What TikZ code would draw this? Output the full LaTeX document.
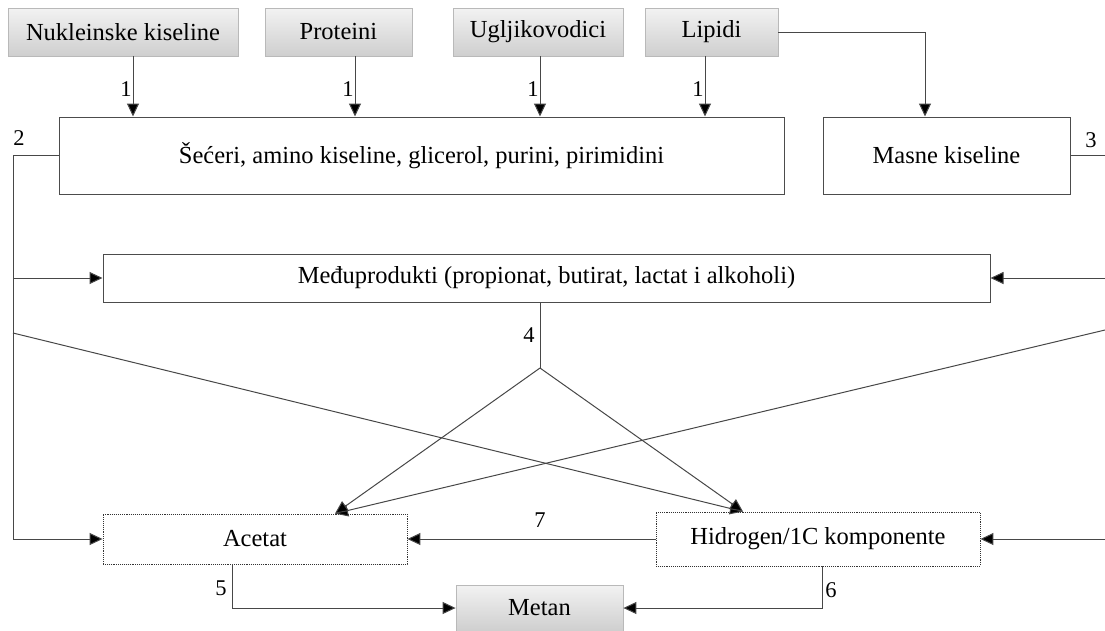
\documentclass[tikz,border=0pt]{standalone}
\usepackage{fontspec}
\setmainfont{Liberation Serif}
\usetikzlibrary{arrows.meta,calc}
\begin{document}
\begin{tikzpicture}[x=1pt,y=-1pt,
  font=\fontsize{24.5}{28}\selectfont,
  greybox/.style={draw=gray!55, line width=0.8pt, top color=gray!10, bottom color=gray!38, inner sep=0pt, anchor=center},
  plainbox/.style={draw=black!70, line width=1pt, fill=white, inner sep=0pt},
  dotbox/.style={draw=black!80, line width=0.9pt, densely dotted, fill=white, inner sep=0pt},
  conn/.style={draw=black!72, line width=1pt},
  arr/.style={conn, -{Triangle[length=13pt,width=12pt,fill=black]}},
  lbl/.style={font=\fontsize{22.5}{26}\selectfont, inner sep=0pt}
]
\useasboundingbox (0,0) rectangle (1105,630);

% top grey boxes
\node[greybox, minimum width=230, minimum height=48] (nuk) at (123,32) {Nukleinske kiseline};
\node[greybox, minimum width=147, minimum height=48] (prot) at (338.5,32) {Proteini};
\node[greybox, minimum width=170, minimum height=48] (ugl) at (538,32) {Ugljikovodici};
\node[greybox, minimum width=133, minimum height=48] (lip) at (711.5,32) {Lipidi};

% second row
\node[plainbox, minimum width=725, minimum height=77] (big) at (421.5,155.5) {Šećeri, amino kiseline, glicerol, purini, pirimidini};
\node[plainbox, minimum width=247, minimum height=77] (masne) at (946.5,155.5) {Masne kiseline};

% intermediates
\node[plainbox, minimum width=887, minimum height=48] (medu) at (546.5,278) {Međuprodukti (propionat, butirat, lactat i alkoholi)};

% bottom
\node[dotbox, minimum width=304, minimum height=50] (acetat) at (255,539) {Acetat};
\node[dotbox, minimum width=324, minimum height=54] (hidro) at (818,539) {Hidrogen/1C komponente};
\node[greybox, minimum width=167, minimum height=46] (metan) at (539.5,608) {Metan};

% helper coordinates
\coordinate (L) at (13,155.5);
\coordinate (Lb) at (13,539);
\coordinate (Ld) at (13,333);
\coordinate (R3) at (1105,155.5);
\coordinate (Rm) at (1105,278);
\coordinate (Rd) at (1105,330);
\coordinate (Rb) at (1105,539);
\coordinate (J) at (540,368);

% arrows 1
\draw[arr] ([xshift=10]nuk.south) -- ([xshift=10]nuk.south |- big.north) node[lbl, pos=0.55, left=1pt] {1};
\draw[arr] ([xshift=16.5]prot.south) -- ([xshift=16.5]prot.south |- big.north) node[lbl, pos=0.55, left=1pt] {1};
\draw[arr] ([xshift=2]ugl.south) -- ([xshift=2]ugl.south |- big.north) node[lbl, pos=0.55, left=1pt] {1};
\draw[arr] ([xshift=-6.5]lip.south) -- ([xshift=-6.5]lip.south |- big.north) node[lbl, pos=0.55, left=1pt] {1};

% Lipidi to Masne
\draw[arr] (lip.east) -| ([xshift=-21.5]masne.north);

% 3
\draw[conn] (masne.east) -- (R3);
\node[lbl] (n3) at (1091,140) {3};

% 2
\draw[conn] (big.west) -- (L) -- (Lb);
\node[lbl] (n2) at (19,138) {2};
\draw[arr] (Lb) -- (acetat.west);
\draw[arr] (medu.west -| L) -- (medu.west);
\draw[arr] (Ld) -- ([xshift=-75]hidro.north);

% right side inputs
\draw[arr] (Rm) -- (medu.east);
\draw[arr] (Rd) -- ([xshift=80]acetat.north);
\draw[arr] (Rb) -- (hidro.east);

% 4
\draw[conn] (medu.south -| J) -- (J);
\node[lbl] (n4) at (529,335) {4};
\draw[arr] (J) -- ([xshift=80]acetat.north);
\draw[arr] (J) -- ([xshift=-75]hidro.north);

% 7
\draw[arr] (hidro.west) -- (acetat.east);
\node[lbl] (n7) at (540,520) {7};

% 5 and 6
\draw[arr] ([xshift=-23]acetat.south) |- (metan.west);
\node[lbl] (n5) at (221,588) {5};
\draw[arr] ([xshift=4]hidro.south) |- (metan.east);
\node[lbl] (n6) at (831,590) {6};
\end{tikzpicture}
\end{document}
